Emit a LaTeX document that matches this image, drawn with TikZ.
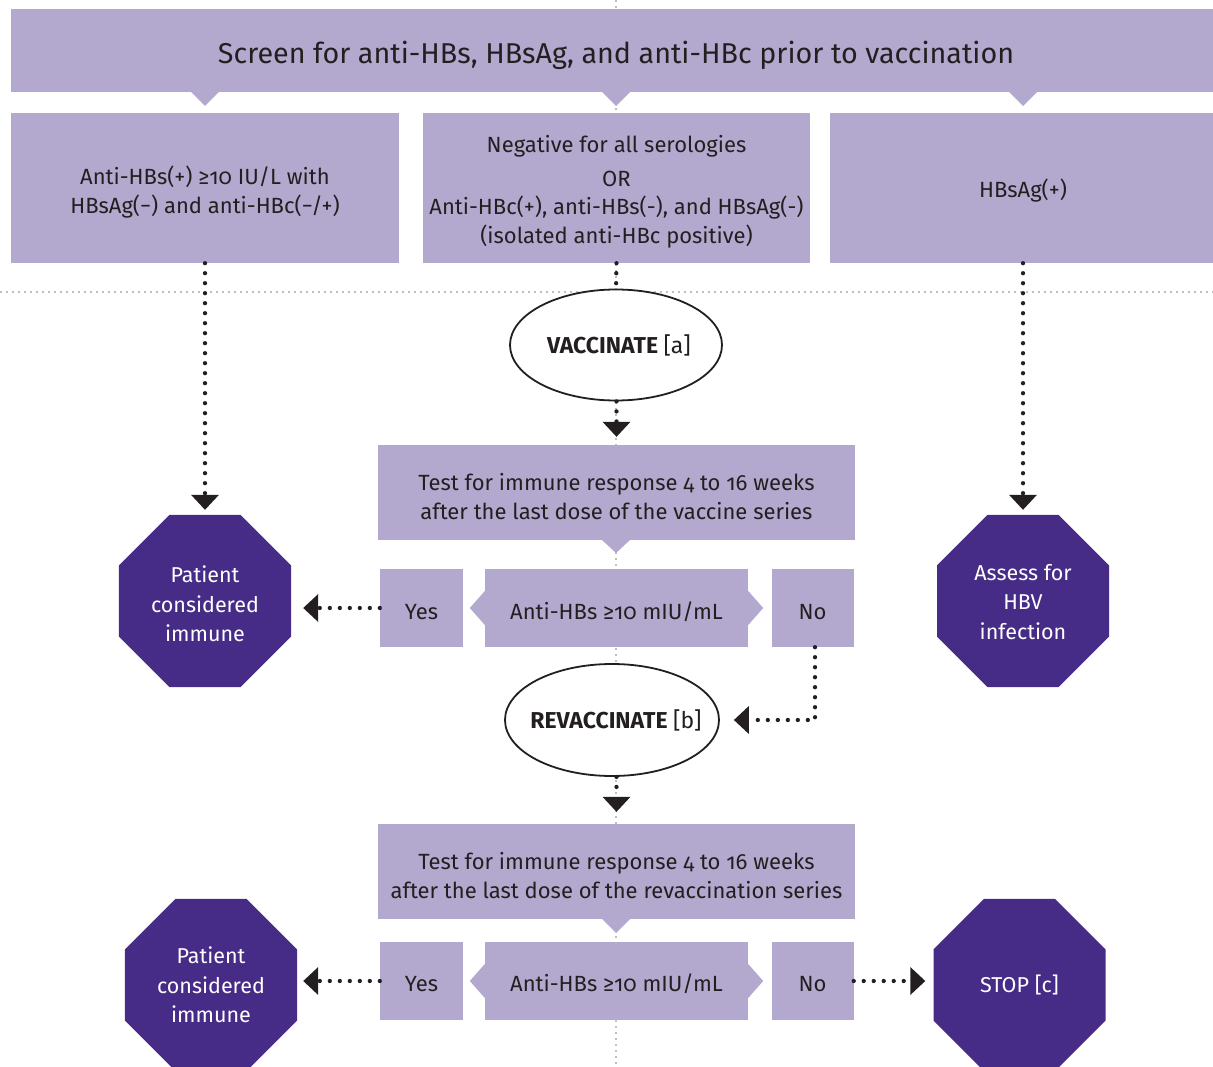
\documentclass[tikz,border=0pt]{standalone}
\usepackage{fontspec}
\setmainfont{Fira Sans}[Numbers=OldStyle]
\usetikzlibrary{shapes.geometric,arrows.meta}
\definecolor{lp}{HTML}{B3A9CF}
\definecolor{dp}{HTML}{472C87}
\definecolor{tx}{HTML}{231F20}
\definecolor{gl}{HTML}{C0C0C0}
\begin{document}
\begin{tikzpicture}[x=1pt,y=-1pt,
 box/.style={fill=lp, inner sep=0pt},
 txt/.style={inner sep=0pt, text=tx, font=\fontsize{22}{28.5}\selectfont, align=center},
 oct/.style={regular polygon, regular polygon sides=8, fill=dp, minimum size=186.2pt, inner sep=0pt},
 otxt/.style={inner sep=0pt, text=white, font=\fontsize{21.5}{29.5}\selectfont, align=center},
 ell/.style={ellipse, draw=tx, line width=1.8pt, fill=white, inner sep=0pt},
 etxt/.style={inner sep=0pt, font=\bfseries\fontsize{23}{26}\selectfont, text=tx},
 dots/.style={draw=tx, line width=4.3pt, dash pattern=on 0pt off 10pt, line cap=round},
 arr/.style={dots, -{Triangle[width=28pt,length=15pt,line width=0pt]}},
 gridline/.style={draw=gl, line width=2pt, dash pattern=on 2pt off 4pt},
 ptr/.style={fill=lp}
]
\useasboundingbox (0,0) rectangle (1213,1067);
% background guide lines
\draw[gridline] (616,0) -- (616,1067);
\draw[gridline] (0,292) -- (1213,292);

% top banner
\node[box, minimum width=1210pt, minimum height=83pt] (top) at (616,50.5) {};
\node[txt, font=\fontsize{28.7}{32}\selectfont] (topt) at ([yshift=-5pt]top.center) {Screen for anti-HBs, HBsAg, and anti-HBc prior to vaccination};
\fill[ptr] (191,92) -- (219,92) -- (205,106) -- cycle;
\fill[ptr] (602,92) -- (630,92) -- (616,106) -- cycle;
\fill[ptr] (1009,92) -- (1037,92) -- (1023,106) -- cycle;

% second row
\node[box, minimum width=388pt, minimum height=150pt] (b1) at (205,188) {};
\node[txt] (b1t) at ([yshift=-4pt]b1.center) {Anti-HBs(+) ≥10 IU/L with\\HBsAg(−) and anti-HBc(−/+)};
\node[box, minimum width=387pt, minimum height=150pt] (b2) at (616.5,188) {};
\node[txt] (b2t) at ([yshift=-4pt]b2.center) {Negative for all serologies\\[5pt]OR\\Anti-HBc(+), anti-HBs(-), and HBsAg(-)\\(isolated anti-HBc positive)};
\node[box, minimum width=388pt, minimum height=150pt] (b3) at (1024,188) {};
\node[txt] (b3t) at ([yshift=-3pt]b3.center -| 1023,0) {HBsAg(+)};

% vaccinate
\node[ell, minimum width=212pt, minimum height=111pt] (vacc) at (616,345) {};
\node[etxt] (vacct) at ([xshift=3pt]vacc.center) {VACCINATE \mdseries[a]};

% test 1
\node[box, minimum width=477pt, minimum height=95pt] (t1) at (616.5,492.5) {};
\node[txt] (t1t) at ([yshift=-4pt]t1.center) {Test for immune response 4 to 16 weeks\\after the last dose of the vaccine series};
\fill[ptr] (602,540) -- (630,540) -- (616,553) -- cycle;

\node[box, minimum width=83pt, minimum height=78pt] (yes1) at (421.5,608) {};
\node[txt] (yes1t) at ([yshift=-4pt]yes1.center) {Yes};
\node[box, minimum width=263pt, minimum height=78pt] (d1) at (616.5,608) {};
\node[txt] (d1t) at ([yshift=-4pt]d1.center) {Anti-HBs ≥10 mIU/mL};
\fill[ptr] ([yshift=17pt]d1.west) -- ++(-15,17) -- ++(15,17) -- cycle;
\fill[ptr] ([yshift=17pt]d1.east) -- ++(15,17) -- ++(-15,17) -- cycle;
\node[box, minimum width=82pt, minimum height=78pt] (no1) at (812.5,608) {};
\node[txt] (no1t) at ([yshift=-4pt]no1.center) {No};
\coordinate (no1b) at ([xshift=2.5pt]no1.south);

\node[oct] (o1) at (205,601) {};
\node[otxt] (o1t) at ([yshift=-3pt]o1.center) {Patient\\considered\\immune};
\node[oct] (o2) at (1023,601) {};
\node[otxt] (o2t) at ([yshift=-1pt]o2.center) {Assess for\\HBV\\infection};

% revaccinate
\node[ell, minimum width=214pt, minimum height=112pt] (rev) at (612,720) {};
\node[etxt] (revt) at ([xshift=4pt]rev.center) {REVACCINATE \mdseries[b]};

% test 2
\node[box, minimum width=477pt, minimum height=95pt] (t2) at (616.5,871.5) {};
\node[txt] (t2t) at ([yshift=-4pt]t2.center) {Test for immune response 4 to 16 weeks\\after the last dose of the revaccination series};
\fill[ptr] (602,919) -- (630,919) -- (616,933) -- cycle;

\node[box, minimum width=83pt, minimum height=78pt] (yes2) at (421.5,981) {};
\node[txt] (yes2t) at ([yshift=-3pt]yes2.center) {Yes};
\node[box, minimum width=263pt, minimum height=78pt] (d2) at (616.5,981) {};
\node[txt] (d2t) at ([yshift=-3pt]d2.center) {Anti-HBs ≥10 mIU/mL};
\fill[ptr] ([yshift=17pt]d2.west) -- ++(-15,17) -- ++(15,17) -- cycle;
\fill[ptr] ([yshift=17pt]d2.east) -- ++(15,17) -- ++(-15,17) -- cycle;
\node[box, minimum width=82pt, minimum height=78pt] (no2) at (812.5,981) {};
\node[txt] (no2t) at ([yshift=-3pt]no2.center) {No};

\node[oct] (o3) at (211,985) {};
\node[otxt] (o3t) at ([yshift=0pt]o3.center) {Patient\\considered\\immune};
\node[oct] (o4) at (1019.5,985) {};
\node[otxt] (o4t) at ([yshift=0pt]o4.center) {STOP [c]};

% connectors
\draw[arr, shorten >=5pt] (b1.south) -- (o1.north);
\draw[arr, shorten >=5pt] (b3.south -| o2.north) -- (o2.north);
\draw[dots] (b2.south) -- (vacc.north);
\draw[arr, shorten >=8pt] (vacc.south -| t1.north) -- (t1.north);
\draw[arr, shorten >=12pt] (yes1.west) -- (yes1.west -| o1.east);
\draw[arr, shorten >=14pt] (no1b) |- (rev.east);
\draw[arr, shorten >=12pt] (rev.south -| t2.north) -- (t2.north);
\draw[arr, shorten >=6pt] (yes2.west) -- (yes2.west -| o3.east);
\draw[arr, shorten >=8pt] (no2.east) -- (no2.east -| o4.west);
\end{tikzpicture}
\end{document}
